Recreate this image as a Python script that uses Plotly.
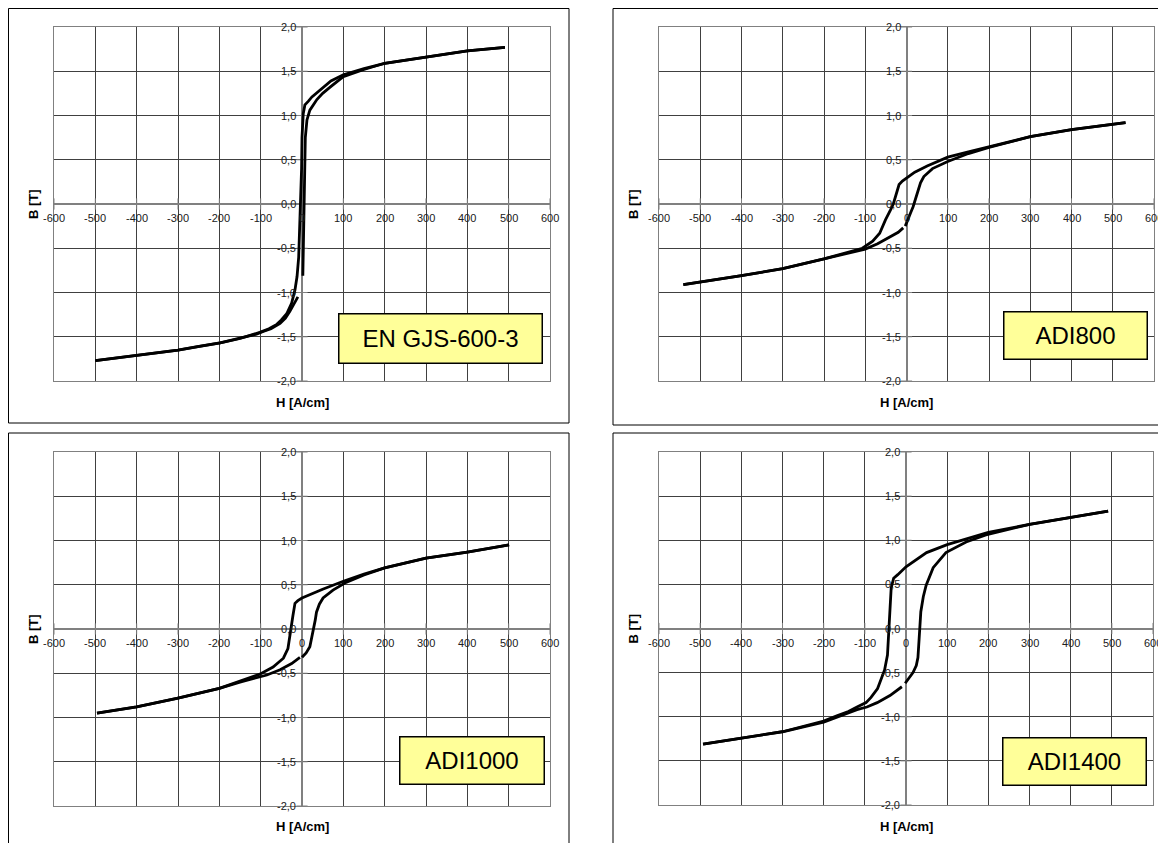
import plotly.graph_objects as go

W, H = 1166, 843
OFF = 8  # page body margin of the browser

# ---------------- tick values / labels ----------------
x_ticks = [-600, -500, -400, -300, -200, -100, 0, 100, 200, 300, 400, 500, 600]
x_tick_labels = ["-600", "-500", "-400", "-300", "-200", "-100", "0",
                 "100", "200", "300", "400", "500", "600"]
y_ticks = [2.0, 1.5, 1.0, 0.5, 0.0, -0.5, -1.0, -1.5, -2.0]
y_tick_labels = ["2,0", "1,5", "1,0", "0,5", "0,0", "-0,5", "-1,0", "-1,5", "-2,0"]

panel_names = ["EN GJS-600-3", "ADI800", "ADI1000", "ADI1400"]
x_title = "H [A/cm]"
y_title = "B [T]"

# ---------------- EN GJS-600-3 ----------------
gjs_up_H = [491, 400, 300, 200, 150, 100, 70, 51, 35, 24, 15, 7, 3, 0, -1, -3, -5, -8,
            -12, -17, -25, -37, -50, -61, -80, -102, -150, -198, -250, -300, -400, -500]
gjs_up_B = [1.77, 1.73, 1.66, 1.59, 1.53, 1.46, 1.39, 1.32, 1.26, 1.21, 1.16, 1.12, 1.02,
            0.75, 0.40, 0.05, -0.30, -0.60, -0.82, -0.97, -1.12, -1.24, -1.31, -1.36,
            -1.41, -1.45, -1.52, -1.57, -1.61, -1.65, -1.71, -1.77]
gjs_lowL_H = [-500, -400, -300, -198, -150, -110, -94, -75, -53, -40, -29, -20, -10]
gjs_lowL_B = [-1.77, -1.71, -1.65, -1.57, -1.52, -1.47, -1.44, -1.41, -1.35, -1.29,
              -1.21, -1.13, -1.05]
gjs_lowR_H = [2, 3, 4, 5, 6, 8, 12, 19, 36, 50, 68, 100, 150, 200, 300, 400, 491]
gjs_lowR_B = [-0.81, -0.50, -0.20, 0.05, 0.40, 0.75, 0.95, 1.06, 1.18, 1.25, 1.32, 1.44,
              1.52, 1.59, 1.66, 1.73, 1.77]

# ---------------- ADI800 ----------------
adi800_up_H = [531, 400, 300, 200, 150, 100, 50, 20, 0, -10, -18, -25, -32, -39, -51,
               -65, -82, -107, -130, -150, -200, -300, -400, -541]
adi800_up_B = [0.92, 0.84, 0.76, 0.65, 0.59, 0.53, 0.43, 0.36, 0.30, 0.26, 0.22, 0.12,
               0.00, -0.07, -0.18, -0.33, -0.42, -0.50, -0.53, -0.56, -0.62, -0.73,
               -0.81, -0.91]
adi800_lowL_H = [-541, -400, -300, -200, -150, -120, -100, -70, -41, -20, -8]
adi800_lowL_B = [-0.91, -0.81, -0.73, -0.62, -0.57, -0.54, -0.51, -0.45, -0.38, -0.32,
                 -0.27]
adi800_lowR_H = [-3, 5, 10, 16, 22, 28, 34, 42, 63, 100, 150, 200, 300, 400, 531]
adi800_lowR_B = [-0.25, -0.17, -0.10, -0.03, 0.05, 0.15, 0.24, 0.31, 0.40, 0.48, 0.57,
                 0.64, 0.76, 0.84, 0.92]

# ---------------- ADI1000 ----------------
adi1000_up_H = [501, 400, 300, 200, 150, 100, 50, 20, 0, -10, -17, -22, -25, -30, -34,
                -45, -70, -102, -150, -200, -300, -400, -496]
adi1000_up_B = [0.95, 0.87, 0.80, 0.69, 0.62, 0.54, 0.45, 0.39, 0.35, 0.32, 0.29, 0.15,
                0.05, -0.10, -0.22, -0.33, -0.43, -0.51, -0.59, -0.67, -0.78, -0.88,
                -0.95]
adi1000_lowL_H = [-496, -400, -300, -200, -150, -110, -85, -53, -25, -5]
adi1000_lowL_B = [-0.95, -0.88, -0.78, -0.67, -0.60, -0.55, -0.52, -0.46, -0.39, -0.32]
adi1000_lowR_H = [0, 10, 19, 27, 32, 35, 42, 51, 75, 108, 150, 200, 300, 400, 501]
adi1000_lowR_B = [-0.32, -0.27, -0.20, -0.03, 0.10, 0.19, 0.28, 0.35, 0.44, 0.53, 0.61,
                  0.69, 0.80, 0.87, 0.95]

# ---------------- ADI1400 ----------------
adi1400_up_H = [491, 400, 300, 200, 150, 100, 50, 0, -20, -30, -36, -39, -41, -45, -52,
                -60, -69, -85, -97, -119, -140, -168, -200, -300, -400, -493]
adi1400_up_B = [1.33, 1.26, 1.18, 1.09, 1.02, 0.95, 0.86, 0.70, 0.61, 0.57, 0.46, 0.20,
                -0.10, -0.30, -0.47, -0.58, -0.68, -0.78, -0.84, -0.89, -0.94, -0.99,
                -1.05, -1.17, -1.24, -1.31]
adi1400_lowL_H = [-493, -400, -300, -200, -170, -140, -119, -95, -70, -39, -10]
adi1400_lowL_B = [-1.31, -1.24, -1.17, -1.06, -1.01, -0.96, -0.92, -0.89, -0.84, -0.76,
                  -0.66]
adi1400_lowR_H = [-2, 10, 17, 25, 29, 32, 34, 36, 42, 49, 66, 97, 146, 194, 300, 400, 491]
adi1400_lowR_B = [-0.62, -0.55, -0.50, -0.42, -0.33, -0.11, 0.05, 0.19, 0.36, 0.49, 0.69,
                  0.86, 0.98, 1.06, 1.18, 1.26, 1.33]

curves = [
    [(gjs_up_H, gjs_up_B), (gjs_lowL_H, gjs_lowL_B), (gjs_lowR_H, gjs_lowR_B)],
    [(adi800_up_H, adi800_up_B), (adi800_lowL_H, adi800_lowL_B), (adi800_lowR_H, adi800_lowR_B)],
    [(adi1000_up_H, adi1000_up_B), (adi1000_lowL_H, adi1000_lowL_B), (adi1000_lowR_H, adi1000_lowR_B)],
    [(adi1400_up_H, adi1400_up_B), (adi1400_lowL_H, adi1400_lowL_B), (adi1400_lowR_H, adi1400_lowR_B)],
]

# ---------------- layout geometry (screen pixels) ----------------
plot_px = [(54, 550, 27, 381), (659, 1154, 27, 381), (54, 550, 452, 806), (659, 1153, 452, 805)]
frame_px = [(8.5, 569, 8.5, 423), (613, 1200, 8.5, 425), (8.5, 569, 433, 880), (613, 1200, 433, 880)]
xtitle_y_px = [403, 403, 826, 826]
ytitle_x_px = [33, 633, 33, 633]
box_px = [(440, 338, 202, 48), (1075, 335, 142, 46), (472, 760, 143, 46), (1074, 761, 142, 46)]


def px_x(v):
    return (v - OFF) / W


def px_y(v):
    return 1 - (v - OFF) / H


FONT = "Liberation Sans, Arial, sans-serif"
GRID = "#404040"
AXIS = "#808080"

fig = go.Figure()
layout = dict(
    width=W, height=H, margin=dict(l=0, r=0, t=0, b=0),
    paper_bgcolor="white", plot_bgcolor="white", showlegend=False,
    shapes=[], annotations=[],
)

for i in range(4):
    sfx = "" if i == 0 else str(i + 1)
    xa, ya = "x" + sfx, "y" + sfx
    x0, x1, y0, y1 = plot_px[i]
    layout["xaxis" + sfx] = dict(
        domain=[px_x(x0), px_x(x1)], range=[-600, 600], anchor=ya,
        tickvals=x_ticks, showticklabels=False, ticks="",
        showgrid=True, gridcolor=GRID, gridwidth=1,
        zeroline=True, zerolinecolor=AXIS, zerolinewidth=2,
        showline=True, mirror=True, linecolor=AXIS, linewidth=1, fixedrange=True,
    )
    layout["yaxis" + sfx] = dict(
        domain=[px_y(y1), px_y(y0)], range=[-2, 2], anchor=xa,
        tickvals=y_ticks, showticklabels=False, ticks="",
        showgrid=True, gridcolor=GRID, gridwidth=1,
        zeroline=True, zerolinecolor=AXIS, zerolinewidth=2,
        showline=True, mirror=True, linecolor=AXIS, linewidth=1, fixedrange=True,
    )

    # tick marks crossing the axes at zero
    fig.add_trace(go.Scatter(
        x=x_ticks, y=[0] * len(x_ticks), xaxis=xa, yaxis=ya, mode="markers",
        marker=dict(symbol="line-ns", size=8, line=dict(color=AXIS, width=1)),
        hoverinfo="skip", cliponaxis=False))
    fig.add_trace(go.Scatter(
        x=[0] * len(y_ticks), y=y_ticks, xaxis=xa, yaxis=ya, mode="markers",
        marker=dict(symbol="line-ew", size=8, line=dict(color=AXIS, width=1)),
        hoverinfo="skip", cliponaxis=False))

    # hysteresis curves
    for hx, by in curves[i]:
        fig.add_trace(go.Scatter(
            x=hx, y=by, xaxis=xa, yaxis=ya, mode="lines",
            line=dict(color="black", width=2.8), hoverinfo="skip"))

    # tick labels along the axes
    for t, lab in zip(x_ticks, x_tick_labels):
        layout["annotations"].append(dict(
            x=t, y=0, xref=xa, yref=ya, text=lab, showarrow=False,
            xanchor="center", yanchor="top", yshift=-6,
            font=dict(family=FONT, size=11, color="#202020")))
    for t, lab in zip(y_ticks, y_tick_labels):
        layout["annotations"].append(dict(
            x=0, y=t, xref=xa, yref=ya, text=lab, showarrow=False,
            xanchor="right", yanchor="middle", xshift=-4,
            font=dict(family=FONT, size=11, color="#202020")))

    # axis titles
    layout["annotations"].append(dict(
        x=px_x((x0 + x1) / 2), y=px_y(xtitle_y_px[i]), xref="paper", yref="paper",
        text="<b>" + x_title + "</b>", showarrow=False, xanchor="center", yanchor="middle",
        font=dict(family=FONT, size=13, color="black")))
    layout["annotations"].append(dict(
        x=px_x(ytitle_x_px[i]), y=px_y((y0 + y1) / 2), xref="paper", yref="paper",
        text="<b>" + y_title + "</b>", showarrow=False, textangle=-90,
        xanchor="center", yanchor="middle",
        font=dict(family=FONT, size=13, color="black")))

    # material label box
    bx, by_, bw, bh = box_px[i]
    layout["annotations"].append(dict(
        x=px_x(bx), y=px_y(by_), xref="paper", yref="paper",
        text=panel_names[i], showarrow=False, xanchor="center", yanchor="middle",
        width=bw, height=bh, align="center", valign="middle",
        bgcolor="#FFFF99", bordercolor="black", borderwidth=1.5, borderpad=0,
        font=dict(family=FONT, size=24, color="black")))

    # outer chart frame
    fx0, fx1, fy0, fy1 = frame_px[i]
    layout["shapes"].append(dict(
        type="rect", xref="paper", yref="paper",
        x0=px_x(fx0), x1=px_x(fx1), y0=px_y(fy1), y1=px_y(fy0),
        line=dict(color="black", width=1), layer="below"))

fig.update_layout(**layout)
fig.write_html("out.html")
